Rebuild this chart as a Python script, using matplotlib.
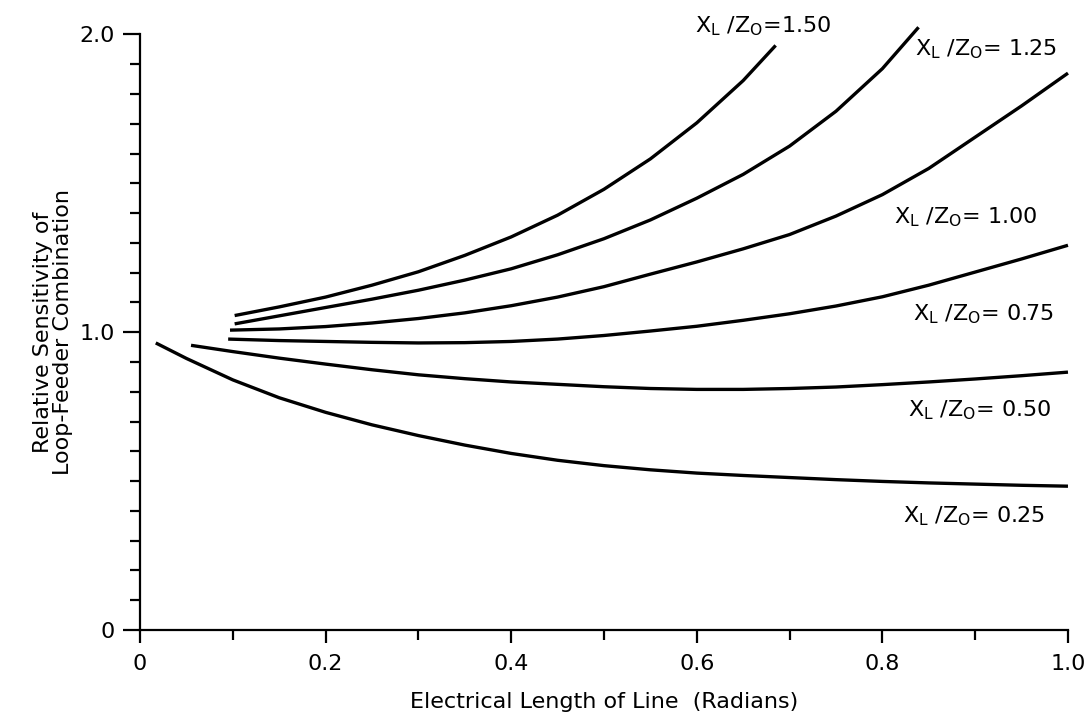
import matplotlib
matplotlib.use("Agg")
from matplotlib import pyplot as plt
from matplotlib.ticker import MultipleLocator

plt.rcParams['font.family'] = ['DejaVu Sans']
plt.rcParams['mathtext.fontset'] = 'dejavusans'

# electrical length (radians) vs relative sensitivity
x_150 = [0.102, 0.15, 0.2, 0.25, 0.3, 0.35, 0.4, 0.45, 0.5, 0.55, 0.6, 0.65, 0.685]
y_150 = [1.056, 1.085, 1.118, 1.158, 1.203, 1.258, 1.320, 1.393, 1.480, 1.582,
         1.703, 1.845, 1.963]

x_125 = [0.102, 0.15, 0.2, 0.25, 0.3, 0.35, 0.4, 0.45, 0.5, 0.55, 0.6, 0.65,
         0.7, 0.75, 0.8, 0.839]
y_125 = [1.028, 1.055, 1.083, 1.111, 1.141, 1.175, 1.213, 1.260, 1.314, 1.377,
         1.450, 1.530, 1.625, 1.742, 1.885, 2.024]

x_100 = [0.097, 0.15, 0.2, 0.25, 0.3, 0.35, 0.4, 0.45, 0.5, 0.55, 0.6, 0.65,
         0.7, 0.75, 0.8, 0.85, 0.9, 0.95, 1.0]
y_100 = [1.007, 1.011, 1.019, 1.031, 1.046, 1.065, 1.089, 1.118, 1.153, 1.195,
         1.236, 1.280, 1.328, 1.390, 1.462, 1.550, 1.655, 1.760, 1.870]

x_075 = [0.095, 0.15, 0.2, 0.25, 0.3, 0.35, 0.4, 0.45, 0.5, 0.55, 0.6, 0.65,
         0.7, 0.75, 0.8, 0.85, 0.9, 0.95, 1.0]
y_075 = [0.977, 0.972, 0.969, 0.966, 0.964, 0.965, 0.969, 0.977, 0.989, 1.004,
         1.020, 1.040, 1.062, 1.088, 1.119, 1.158, 1.202, 1.246, 1.292]

x_050 = [0.055, 0.1, 0.15, 0.2, 0.25, 0.3, 0.35, 0.4, 0.45, 0.5, 0.55, 0.6,
         0.65, 0.7, 0.75, 0.8, 0.85, 0.9, 0.95, 1.0]
y_050 = [0.956, 0.935, 0.913, 0.893, 0.874, 0.857, 0.844, 0.833, 0.825, 0.817,
         0.811, 0.808, 0.808, 0.811, 0.816, 0.824, 0.833, 0.843, 0.854, 0.866]

x_025 = [0.017, 0.05, 0.1, 0.15, 0.2, 0.25, 0.3, 0.35, 0.4, 0.45, 0.5, 0.55,
         0.6, 0.65, 0.7, 0.75, 0.8, 0.85, 0.9, 0.95, 1.0]
y_025 = [0.964, 0.912, 0.840, 0.780, 0.731, 0.689, 0.653, 0.621, 0.593, 0.570,
         0.552, 0.538, 0.527, 0.519, 0.512, 0.505, 0.499, 0.494, 0.490, 0.486,
         0.483]

ratios = ['1.50', '1.25', '1.00', '0.75', '0.50', '0.25']
curves = [(x_150, y_150), (x_125, y_125), (x_100, y_100),
          (x_075, y_075), (x_050, y_050), (x_025, y_025)]
# label anchor (left, baseline) in data units
label_pos = [(0.598, 2.008), (0.835, 1.93), (0.812, 1.365),
             (0.833, 1.040), (0.828, 0.716), (0.8225, 0.36)]

xtick_vals = [0, 0.2, 0.4, 0.6, 0.8, 1.0]
xtick_text = ['0', '0.2', '0.4', '0.6', '0.8', '1.0']
ytick_vals = [0, 1.0, 2.0]
ytick_text = ['0', '1.0', '2.0']

fig = plt.figure(figsize=(10.92, 7.17), dpi=100)
ax = fig.add_axes([0.1282, 0.1213, 0.8498, 0.8307])

for (xs, ys) in curves:
    ax.plot(xs, ys, color='black', lw=2.4, solid_capstyle='butt',
            solid_joinstyle='round', clip_on=False)

for r, (lx, ly) in zip(ratios, label_pos):
    sep = '=' if r == '1.50' else '= '
    ax.text(lx, ly, r'X$_\mathregular{L}$ /Z$_\mathregular{O}$' + sep + r,
            fontsize=16, ha='left', va='baseline')

ax.set_xlim(0, 1.0)
ax.set_ylim(0, 2.0)
ax.set_xticks(xtick_vals, xtick_text)
ax.set_yticks(ytick_vals, ytick_text)
ax.xaxis.set_minor_locator(MultipleLocator(0.1))
ax.yaxis.set_minor_locator(MultipleLocator(0.1))

ax.spines['top'].set_visible(False)
ax.spines['right'].set_visible(False)
for s in ('left', 'bottom'):
    ax.spines[s].set_linewidth(1.6)

ax.tick_params(axis='both', which='both', direction='out', width=1.6,
               labelsize=16, color='black')
ax.tick_params(axis='x', which='major', length=9.5, pad=8)
ax.tick_params(axis='x', which='minor', length=7)
ax.tick_params(axis='y', which='major', length=12, pad=6)
ax.tick_params(axis='y', which='minor', length=7)

ax.set_xlabel('Electrical Length of Line  (Radians)', fontsize=16, labelpad=13)
ax.set_ylabel('Relative Sensitivity of\nLoop-Feeder Combination',
              fontsize=16, labelpad=5, linespacing=1.0)

fig.savefig('out.png', dpi=100)
